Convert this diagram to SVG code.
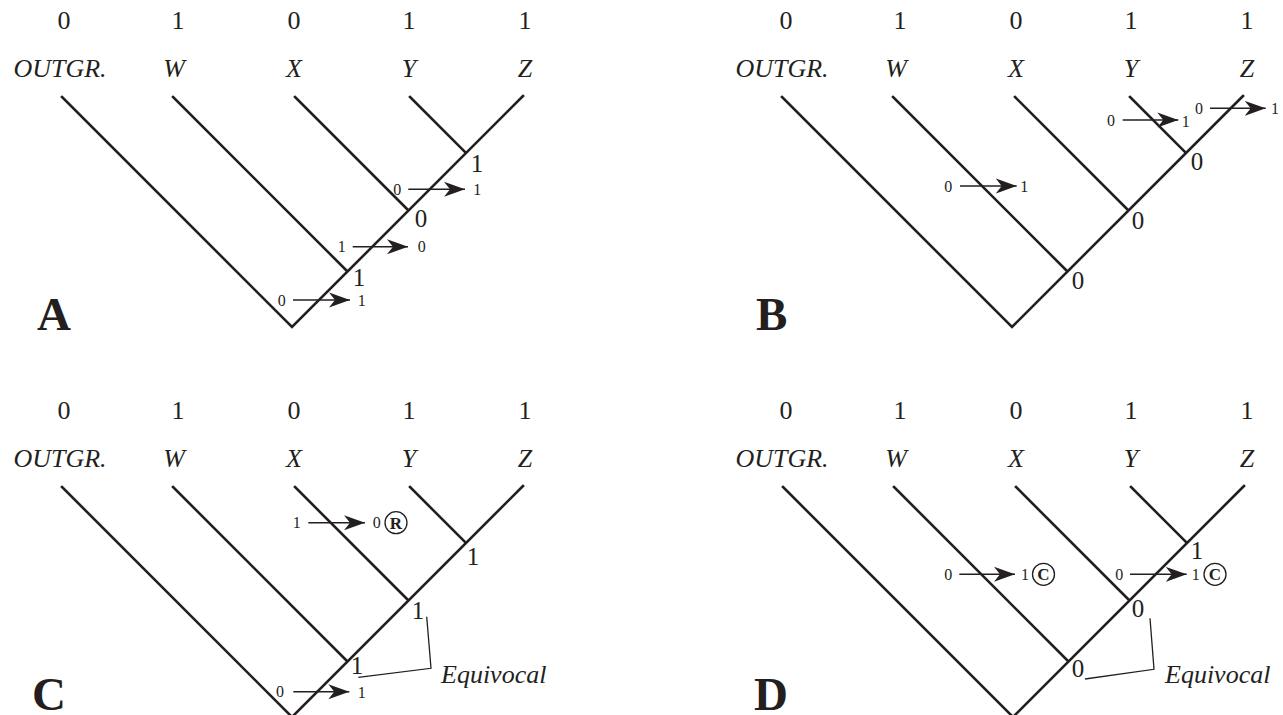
<svg xmlns="http://www.w3.org/2000/svg" width="1283" height="715" viewBox="0 0 1283 715">
<style>
text{font-family:"Liberation Serif","Times New Roman",serif;fill:#231f20}
.num{font-size:26px;text-anchor:middle}
.tax{font-size:26px;font-style:italic;text-anchor:middle}
.st{font-size:25px;text-anchor:middle}
.sm{font-size:16px;text-anchor:middle}
.pl{font-size:47px;font-weight:bold}
.eq{font-size:26px;font-style:italic}
.br{fill:none;stroke:#231f20;stroke-width:2.6;stroke-linecap:square}
.ar{stroke:#231f20;stroke-width:1.6;marker-end:url(#ah)}
.bk{fill:none;stroke:#231f20;stroke-width:1.3}
.ci{fill:none;stroke:#231f20;stroke-width:1.3}
.cl{font-size:17px;font-weight:bold;text-anchor:middle}
</style>
<defs>
<marker id="ah" markerUnits="userSpaceOnUse" markerWidth="24" markerHeight="16" refX="21" refY="8" orient="auto">
<path d="M0,0.5 L21,8 L0,15.5 L6,8 Z" fill="#231f20"/>
</marker>
<g id="tree">
<path class="br" d="M62,97 L292,327 L523,96 M173,97 L347.5,271.5 M295,97 L408.5,210.5 M410,97 L466,153"/>
</g>
<g id="taxa">
<text class="num" x="64" y="29">0</text>
<text class="num" x="178" y="29">1</text>
<text class="num" x="294" y="29">0</text>
<text class="num" x="409" y="29">1</text>
<text class="num" x="525" y="29">1</text>
<text class="tax" x="60" y="77">OUTGR.</text>
<text class="tax" x="174" y="77">W</text>
<text class="tax" x="294" y="77">X</text>
<text class="tax" x="409" y="77">Y</text>
<text class="tax" x="525" y="77">Z</text>
</g>
</defs>

<g id="connectors">
<use href="#tree"/>
<use href="#tree" transform="translate(720,0)"/>
<use href="#tree" transform="translate(0,390)"/>
<use href="#tree" transform="translate(721,390)"/>
<path class="bk" d="M358.3,677.3 L431,668.3 L426.7,616.7"/>
<path class="bk" d="M1085,679 L1154,669.3 L1150,618.3"/>
</g>

<g id="panelA">
<g id="A-taxa"><use href="#taxa"/></g>
<g id="A-nodes">
<text class="st" x="359" y="285.5">1</text>
<text class="st" x="421" y="226.5">0</text>
<text class="st" x="477" y="171.5">1</text>
</g>
<g id="A-changes">
<text class="sm" x="281.7" y="305.5">0</text><line class="ar" x1="293" y1="300" x2="350" y2="300"/><text class="sm" x="361.7" y="305.5">1</text>
<text class="sm" x="341.7" y="252">1</text><line class="ar" x1="352.7" y1="246.7" x2="408" y2="246.7"/><text class="sm" x="421.7" y="252">0</text>
<text class="sm" x="397.3" y="195">0</text><line class="ar" x1="408.3" y1="189.3" x2="465" y2="189.3"/><text class="sm" x="477.3" y="195">1</text>
</g>
<text class="pl" x="37" y="330">A</text>
</g>

<g id="panelB">
<g id="B-taxa"><use href="#taxa" transform="translate(722,0)"/></g>
<g id="B-nodes">
<text class="st" x="1078" y="289">0</text>
<text class="st" x="1138" y="229">0</text>
<text class="st" x="1197" y="170">0</text>
</g>
<g id="B-changes">
<text class="sm" x="948.3" y="191.5">0</text><line class="ar" x1="960" y1="186" x2="1016.7" y2="186"/><text class="sm" x="1024.3" y="191.5">1</text>
<text class="sm" x="1111" y="125.5">0</text><line class="ar" x1="1122.7" y1="120" x2="1178.3" y2="120"/><text class="sm" x="1185.7" y="126.5">1</text>
<text class="sm" x="1199" y="113.8">0</text><line class="ar" x1="1210" y1="108.3" x2="1265.7" y2="108.3"/><text class="sm" x="1275" y="113.8">1</text>
</g>
<text class="pl" x="756" y="330">B</text>
</g>

<g id="panelC">
<g id="C-taxa"><use href="#taxa" transform="translate(0,390)"/></g>
<g id="C-nodes">
<text class="st" x="357" y="673.5">1</text>
<text class="st" x="418" y="618.5">1</text>
<text class="st" x="473" y="564.5">1</text>
</g>
<g id="C-changes">
<text class="sm" x="296.7" y="528.2">1</text><line class="ar" x1="308.3" y1="522.7" x2="365" y2="522.7"/><text class="sm" x="376.7" y="528.2">0</text>
<circle class="ci" cx="396" cy="522.7" r="11"/><text class="cl" x="396" y="528.7">R</text>
<text class="sm" x="280" y="697.2">0</text><line class="ar" x1="293.3" y1="691.7" x2="349.3" y2="691.7"/><text class="sm" x="361.7" y="697.5">1</text>
</g>
<text class="eq" x="441" y="683">Equivocal</text>
<text class="pl" x="32" y="710">C</text>
</g>

<g id="panelD">
<g id="D-taxa"><use href="#taxa" transform="translate(722,390)"/></g>
<g id="D-nodes">
<text class="st" x="1078" y="676.5">0</text>
<text class="st" x="1138" y="616.5">0</text>
<text class="st" x="1197" y="558.5">1</text>
</g>
<g id="D-changes">
<text class="sm" x="948.3" y="579.8">0</text><line class="ar" x1="959.3" y1="574.3" x2="1015" y2="574.3"/><text class="sm" x="1025" y="579.8">1</text>
<circle class="ci" cx="1043.5" cy="574.3" r="11"/><text class="cl" x="1043.5" y="580.3">C</text>
<text class="sm" x="1119.3" y="579.8">0</text><line class="ar" x1="1130" y1="574.3" x2="1186.7" y2="574.3"/><text class="sm" x="1195.7" y="579.8">1</text>
<circle class="ci" cx="1215" cy="574.3" r="11"/><text class="cl" x="1215" y="580.3">C</text>
</g>
<text class="eq" x="1165" y="683">Equivocal</text>
<text class="pl" x="754" y="710">D</text>
</g>
</svg>
